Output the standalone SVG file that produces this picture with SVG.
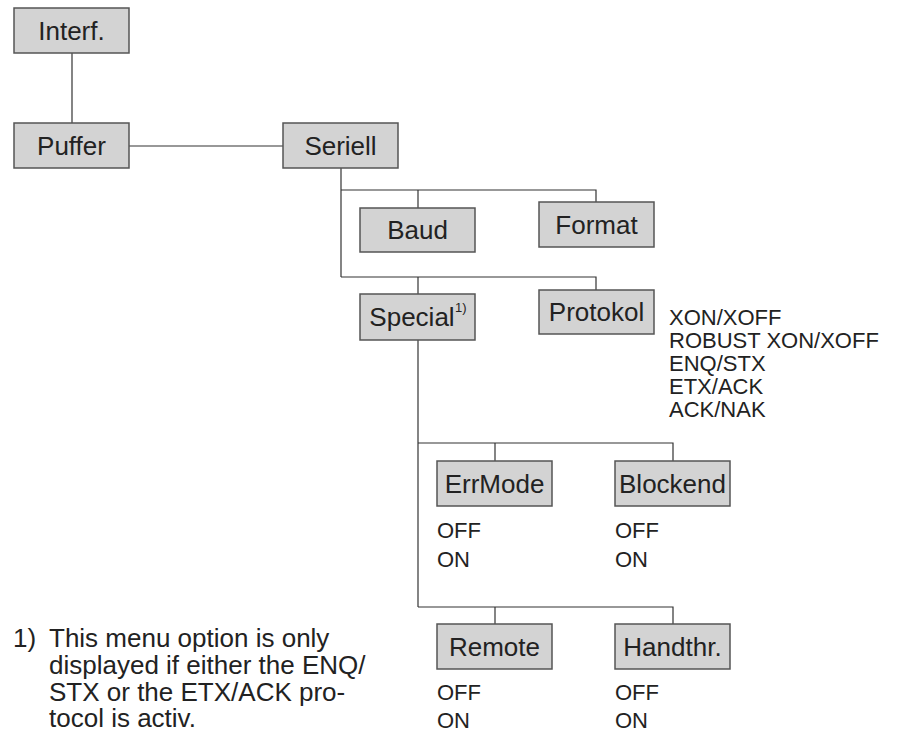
<svg xmlns="http://www.w3.org/2000/svg" width="898" height="734" viewBox="0 0 898 734">
<style>
.box{fill:#d3d3d3;stroke:#555;stroke-width:1.5}
.lbl{font-family:"Liberation Sans",Arial,sans-serif;font-size:26px;fill:#222;text-anchor:middle}
.opt{font-family:"Liberation Sans",Arial,sans-serif;font-size:22px;fill:#222}
.note{font-family:"Liberation Sans",Arial,sans-serif;font-size:26px;fill:#222}
.sup{font-family:"Liberation Sans",Arial,sans-serif;font-size:13px;fill:#222}
.con{fill:none;stroke:#333;stroke-width:1.2}
</style>
<rect width="898" height="734" fill="#fff"/>
<g id="connectors">
<path class="con" d="M72 53V123"/>
<path class="con" d="M129 146H283"/>
<path class="con" d="M341 168V277"/>
<path class="con" d="M341 190H596V202"/>
<path class="con" d="M418 190V208"/>
<path class="con" d="M341 277H596V290"/>
<path class="con" d="M418 277V294"/>
<path class="con" d="M418 340V607"/>
<path class="con" d="M418 443H673V461"/>
<path class="con" d="M495 443V461"/>
<path class="con" d="M418 607H673V624"/>
<path class="con" d="M495 607V624"/>
</g>
<g id="interf"><rect class="box" x="14" y="8" width="115" height="45"/><text class="lbl" x="71.5" y="40">Interf.</text></g>
<g id="puffer"><rect class="box" x="14" y="123" width="115" height="45"/><text class="lbl" x="71.5" y="155">Puffer</text></g>
<g id="seriell"><rect class="box" x="283" y="123" width="115" height="45"/><text class="lbl" x="340.5" y="155">Seriell</text></g>
<g id="baud"><rect class="box" x="360" y="208" width="115" height="44"/><text class="lbl" x="417.5" y="239">Baud</text></g>
<g id="format"><rect class="box" x="539" y="202" width="115" height="45"/><text class="lbl" x="596.5" y="234">Format</text></g>
<g id="special"><rect class="box" x="360" y="294" width="115" height="46"/><text class="lbl" x="412" y="326">Special</text><text class="sup" x="455" y="312">1)</text></g>
<g id="protokol"><rect class="box" x="539" y="290" width="115" height="44"/><text class="lbl" x="596.5" y="321">Protokol</text>
<text class="opt"><tspan x="669" y="325">XON/XOFF</tspan><tspan x="669" y="348">ROBUST XON/XOFF</tspan><tspan x="669" y="371">ENQ/STX</tspan><tspan x="669" y="394">ETX/ACK</tspan><tspan x="669" y="417">ACK/NAK</tspan></text></g>
<g id="errmode"><rect class="box" x="437" y="461" width="115" height="45"/><text class="lbl" x="494.5" y="493">ErrMode</text>
<text class="opt"><tspan x="437" y="538">OFF</tspan><tspan x="437" y="567">ON</tspan></text></g>
<g id="blockend"><rect class="box" x="615" y="461" width="115" height="45"/><text class="lbl" x="672.5" y="493">Blockend</text>
<text class="opt"><tspan x="615" y="538">OFF</tspan><tspan x="615" y="567">ON</tspan></text></g>
<g id="remote"><rect class="box" x="437" y="624" width="115" height="45"/><text class="lbl" x="494.5" y="656">Remote</text>
<text class="opt"><tspan x="437" y="700">OFF</tspan><tspan x="437" y="728">ON</tspan></text></g>
<g id="handthr"><rect class="box" x="615" y="624" width="115" height="45"/><text class="lbl" x="672.5" y="656">Handthr.</text>
<text class="opt"><tspan x="615" y="700">OFF</tspan><tspan x="615" y="728">ON</tspan></text></g>
<g id="footnote">
<text class="note"><tspan x="13" y="647">1)</tspan><tspan x="49" y="647">This menu option is only</tspan><tspan x="49" y="674">displayed if either the ENQ/</tspan><tspan x="49" y="701">STX or the ETX/ACK pro-</tspan><tspan x="49" y="727">tocol is activ.</tspan></text>
</g>
</svg>
